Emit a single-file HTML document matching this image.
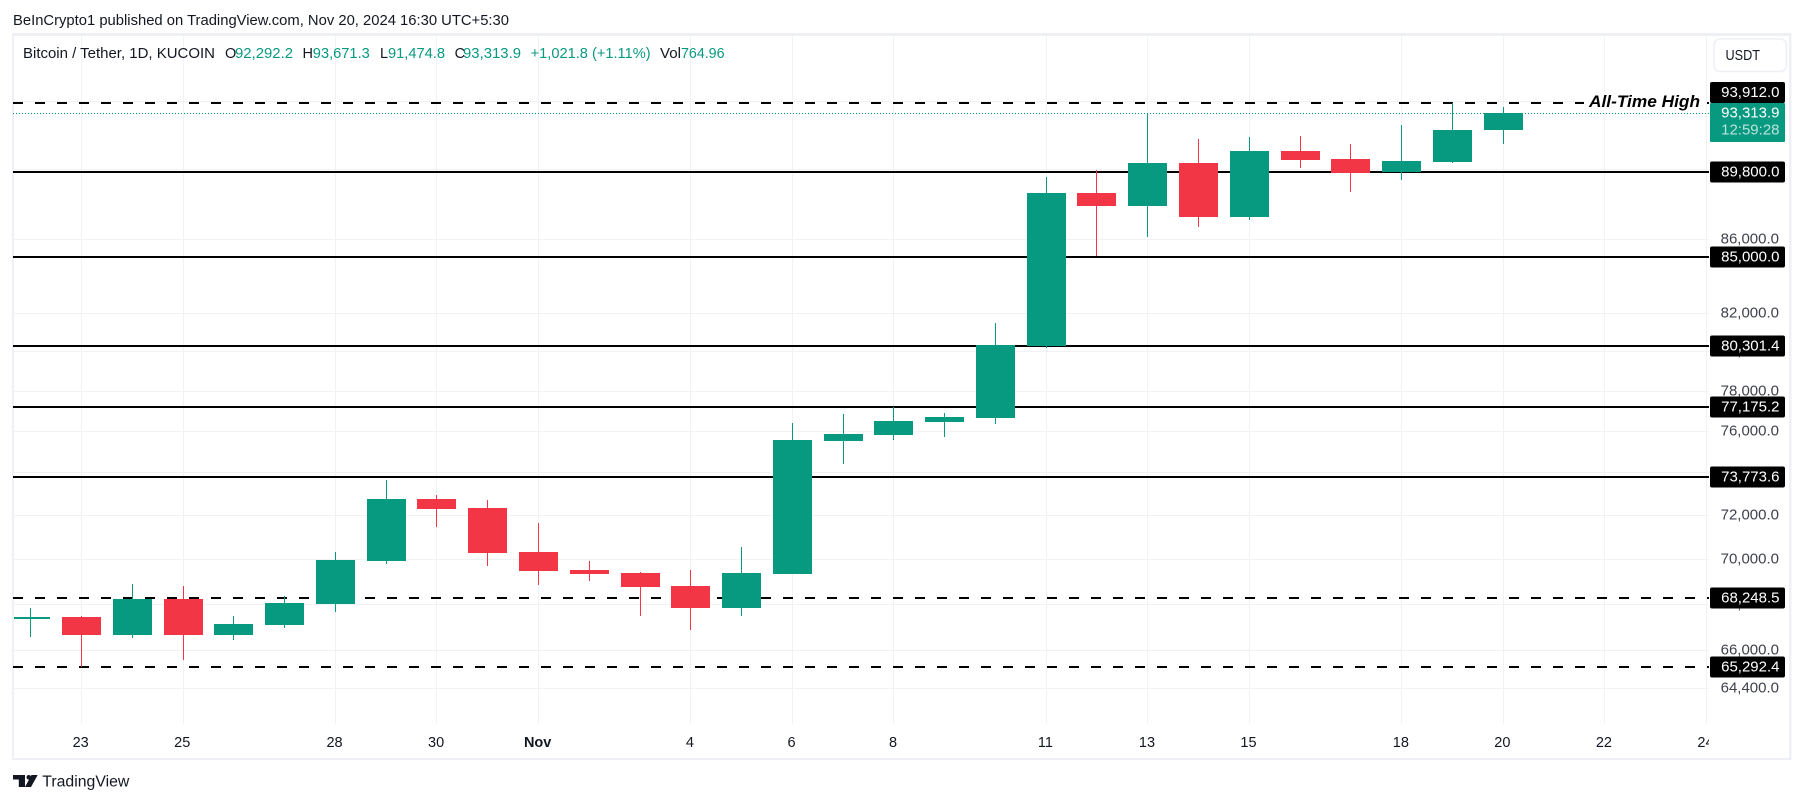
<!DOCTYPE html>
<html lang="en">
<head>
<meta charset="utf-8">
<title>Bitcoin / Tether, 1D, KUCOIN</title>
<style>
  html,body{margin:0;padding:0;background:#fff;width:1804px;height:803px;overflow:hidden}
  svg{display:block}
  text{font-family:"Liberation Sans",sans-serif;dominant-baseline:central}
</style>
</head>
<body>
<svg id="chart" width="1804" height="803" viewBox="0 0 1804 803" xmlns="http://www.w3.org/2000/svg">
  <defs>
    <clipPath id="plot-clip"><rect x="14" y="36" width="1692.5" height="687.5"/></clipPath>
    <clipPath id="time-clip"><rect x="14" y="724" width="1695" height="34"/></clipPath>
  </defs>
  <rect x="0" y="0" width="1804" height="803" fill="#ffffff"/>
  <text x="13" y="21" font-size="14.5" fill="#131722" textLength="496" lengthAdjust="spacingAndGlyphs">BeInCrypto1 published on TradingView.com, Nov 20, 2024 16:30 UTC+5:30</text>
  <g>
    <rect x="12" y="33" width="1779.5" height="3" fill="#eff0f6"/>
    <rect x="12" y="758" width="1779.5" height="2" fill="#eff0f6"/>
    <rect x="12" y="33" width="2" height="727" fill="#eff0f6"/>
    <rect x="1789" y="33" width="2.5" height="727" fill="#eff0f6"/>
  </g>

  <g id="grid"></g>
  <g id="levels"></g>
  <line id="price-line" x1="13" x2="1710" stroke="#089981" stroke-width="1" stroke-dasharray="1 2"/>
  <g id="candles" clip-path="url(#plot-clip)"></g>

  <rect x="1584" y="92" width="122" height="20" fill="#ffffff"/>
  <text x="1589" y="101.5" font-size="17" font-style="italic" font-weight="700" fill="#000000" textLength="111" lengthAdjust="spacingAndGlyphs">All-Time High</text>

  <g>
    <text x="23" y="54" font-size="14.5" fill="#131722" textLength="192" lengthAdjust="spacingAndGlyphs">Bitcoin / Tether, 1D, KUCOIN</text>
    <text x="225" y="54" font-size="14.5" fill="#131722">O</text>
    <text x="235" y="54" font-size="14.5" fill="#089981" textLength="58" lengthAdjust="spacingAndGlyphs">92,292.2</text>
    <text x="302.5" y="54" font-size="14.5" fill="#131722">H</text>
    <text x="312.8" y="54" font-size="14.5" fill="#089981" textLength="57" lengthAdjust="spacingAndGlyphs">93,671.3</text>
    <text x="380" y="54" font-size="14.5" fill="#131722">L</text>
    <text x="388" y="54" font-size="14.5" fill="#089981" textLength="57" lengthAdjust="spacingAndGlyphs">91,474.8</text>
    <text x="454.6" y="54" font-size="14.5" fill="#131722">C</text>
    <text x="463" y="54" font-size="14.5" fill="#089981" textLength="58" lengthAdjust="spacingAndGlyphs">93,313.9</text>
    <text x="530.6" y="54" font-size="14.5" fill="#089981" textLength="120" lengthAdjust="spacingAndGlyphs">+1,021.8 (+1.11%)</text>
    <text x="660" y="54" font-size="14.5" fill="#131722" textLength="21" lengthAdjust="spacingAndGlyphs">Vol</text>
    <text x="681" y="54" font-size="14.5" fill="#089981" textLength="43.5" lengthAdjust="spacingAndGlyphs">764.96</text>
  </g>

  <g id="y-axis"></g>
  <g id="x-axis" clip-path="url(#time-clip)"></g>

  <g>
    <rect x="1714" y="39" width="72.5" height="32.5" rx="6" fill="#ffffff" stroke="#eff0f6" stroke-width="1.6"/>
    <text x="1725.5" y="55.5" font-size="15" fill="#131722" textLength="34.5" lengthAdjust="spacingAndGlyphs">USDT</text>
  </g>

  <g>
    <polygon points="13,775 25,775 25,787 18.8,787 18.8,779.5 13,779.5" fill="#131722"/>
    <circle cx="28.8" cy="777.3" r="2.3" fill="#131722"/>
    <polygon points="31.5,775 37.7,775 31,787 25,787" fill="#131722"/>
    <text x="42.3" y="782" font-size="15.5" fill="#131722" textLength="87" lengthAdjust="spacingAndGlyphs">TradingView</text>
  </g>
</svg>
<script>
const categories = ['Oct 22','Oct 23','Oct 24','Oct 25','Oct 26','Oct 27','Oct 28','Oct 29','Oct 30','Oct 31','Nov 1','Nov 2','Nov 3','Nov 4','Nov 5','Nov 6','Nov 7','Nov 8','Nov 9','Nov 10','Nov 11','Nov 12','Nov 13','Nov 14','Nov 15','Nov 16','Nov 17','Nov 18','Nov 19','Nov 20'];
const opens  = [67335,67422,66645,68208,66645,67075,67989,69898,72746,72325,70304,69494,69359,68781,67814,69315,75516,75809,76446,76643,80285,88603,87864,90333,87242,91034,90566,89810,90391,92292.2];
const highs  = [67814,67465,68869,68781,67465,68339,70304,73642,72934,72699,71630,69898,69404,69494,70531,76397,76841,77188,76891,81484,89521,89926,93314,91741,91859,91918,91446,92572,93894,93671.3];
const lows   = [66572,65292,66529,65580,66430,66946,67639,69762,71446,69672,68825,69003,67465,66860,67465,69315,74405,75565,75711,76347,80182,85077,86126,86683,87074,90042,88660,89348,90333,91474.8];
const closes = [67422,66645,68208,66645,67119,68032,69942,72746,72279,70258,69449,69315,68737,67814,69359,75565,75857,76495,76693,80337,88603,87864,90333,87242,91034,90507,89752,90449,92274,93313.9];

const priceTicks = [94000,90000,86000,82000,80000,78000,76000,74000,72000,70000,68000,66000,64400];
const timeTickLabels = ['23','25','28','30','Nov','4','6','8','11','13','15','18','20','22','24'];
const timeTickDays = ['Oct 23','Oct 25','Oct 28','Oct 30','Nov 1','Nov 4','Nov 6','Nov 8','Nov 11','Nov 13','Nov 15','Nov 18','Nov 20','Nov 22','Nov 24'];
const solidLevels = [89800,85000,80301.4,77175.2,73773.6];
const dashedLevels = [93912,68248.5,65292.4];
const countdownLabel = '12:59:28';

const NS = 'http://www.w3.org/2000/svg';
const UP = '#089981', DOWN = '#f23645', GRID = '#f1f2f5';
function xScale(dayIndex){ return 30.7 + 50.775 * dayIndex; }
function dayIndexOf(label){
  const p = label.split(' ');
  const d = parseInt(p[1], 10);
  return p[0] === 'Oct' ? d - 22 : d + 9;
}
function yScale(price){ return 102.7 + 1551.7 * Math.log(93912 / price); }
function fmt(v){ return v.toLocaleString('en-US',{minimumFractionDigits:1,maximumFractionDigits:1}); }
function make(tag, attrs, parent){
  const el = document.createElementNS(NS, tag);
  for (const k in attrs) el.setAttribute(k, attrs[k]);
  parent.appendChild(el);
  return el;
}
const gridG = document.getElementById('grid');
const levelsG = document.getElementById('levels');
const candlesG = document.getElementById('candles');
const yAxisG = document.getElementById('y-axis');
const xAxisG = document.getElementById('x-axis');

/* grid + time axis */
timeTickLabels.forEach(function(label, i){
  const x = xScale(dayIndexOf(timeTickDays[i]));
  const gl = make('rect',{x:Math.floor(x),y:36,width:1,height:687.5,fill:GRID},gridG);
  
  
  const t = make('text',{x:x-0.8,y:743,'font-size':14.5,fill:'#131722','text-anchor':'middle','font-weight':label==='Nov'?'700':'400'},xAxisG);
  t.textContent = label;
  
  
});
const axisEdge = make('rect',{x:1706,y:36,width:1,height:687.5,fill:GRID},gridG);



/* grid + price axis */
priceTicks.forEach(function(p){
  const y = Math.round(yScale(p));
  const gl = make('rect',{x:14,y:y,width:1695,height:1,fill:GRID},gridG);
  
  
  const t = make('text',{x:1779,y:y,'font-size':15,fill:'#3f424c','text-anchor':'end'},yAxisG);
  t.textContent = fmt(p);
  
  
});

/* level lines */
solidLevels.forEach(function(p){
  const y = Math.round(yScale(p));
  const l = make('rect',{x:13,y:y-1,width:1696,height:2,fill:'#000000'},levelsG);
  
  
});
dashedLevels.forEach(function(p){
  const y = Math.round(yScale(p));
  const l = make('line',{x1:13,x2:1709,y1:y,y2:y,stroke:'#000000','stroke-width':2,'stroke-dasharray':'10 12'},levelsG);
  
  
});

/* candles */
categories.forEach(function(c, i){
  const x = Math.floor(xScale(i));
  const up = closes[i] >= opens[i];
  const col = up ? UP : DOWN;
  const wickTop = Math.round(yScale(highs[i]));
  const wickBot = Math.round(yScale(lows[i]));
  const bodyTop = Math.round(yScale(Math.max(opens[i],closes[i])));
  const bodyBot = Math.round(yScale(Math.min(opens[i],closes[i])));
  const g = make('g',{},candlesG);
  
  
  const w = make('rect',{x:x,y:wickTop,width:1,height:Math.max(1,wickBot-wickTop),fill:col},g);
  
  
  const b = make('rect',{x:x-19,y:bodyTop,width:39,height:Math.max(1,bodyBot-bodyTop),fill:col},g);
  
  
});

/* last price */
const lastClose = closes[closes.length-1];
const lastY = Math.round(yScale(lastClose));
const priceLine = document.getElementById('price-line');
priceLine.setAttribute('y1', lastY + 0.5);
priceLine.setAttribute('y2', lastY + 0.5);

/* axis level badges */
function badge(p, boxY){
  const r = make('rect',{x:1710,y:boxY,width:75,height:21,rx:2,fill:'#000000'},yAxisG);
  
  
  const t = make('text',{x:1779.5,y:boxY+10.5,'font-size':15,fill:'#ffffff','text-anchor':'end'},yAxisG);
  t.textContent = fmt(p);
  
  
}
solidLevels.forEach(function(p){ badge(p, Math.round(yScale(p)) - 10.5); });
dashedLevels.forEach(function(p){
  const y = Math.round(yScale(p));
  badge(p, p === 93912 ? y - 21 : y - 10.5);
});
const lastBox = make('rect',{x:1710,y:103,width:75,height:39,rx:1,fill:UP},yAxisG);


const lastText = make('text',{x:1779.5,y:113,'font-size':15,fill:'#ffffff','text-anchor':'end'},yAxisG);
lastText.textContent = fmt(lastClose);


const timerText = make('text',{x:1779.5,y:130,'font-size':15,fill:'#b9e4dc','text-anchor':'end'},yAxisG);
timerText.textContent = countdownLabel;


</script>
</body>
</html>
